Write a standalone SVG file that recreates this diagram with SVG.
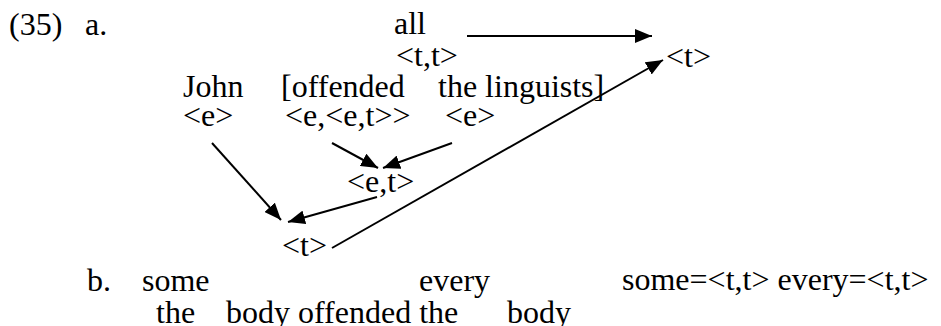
<svg xmlns="http://www.w3.org/2000/svg" width="941" height="326" viewBox="0 0 941 326">
<style>
text{font-family:"Liberation Serif","Times New Roman",serif;font-size:32px;fill:#000}
.c line{stroke:#000;stroke-width:2;fill:none}
.a{marker-end:url(#ah)}
</style>
<defs>
<marker id="ah" markerUnits="userSpaceOnUse" markerWidth="17" markerHeight="14" refX="17" refY="7" orient="auto">
<path d="M0,0 L17,7 L0,14 z" fill="#000"/>
</marker>
</defs>
<rect width="941" height="326" fill="#fff"/>
<g id="label35"><text x="9" y="35">(35)</text><text x="85" y="35">a.</text></g>
<g id="all"><text x="394" y="34">all</text></g>
<g id="tt"><text x="396" y="66">&lt;t,t&gt;</text></g>
<g id="t_top"><text x="666" y="67">&lt;t&gt;</text></g>
<g id="john"><text x="183" y="97">John</text></g>
<g id="offended"><text x="281" y="97">[offended</text></g>
<g id="linguists"><text x="438" y="97">the linguists]</text></g>
<g id="e1"><text x="183" y="126">&lt;e&gt;</text></g>
<g id="eet"><text x="285" y="126">&lt;e,&lt;e,t&gt;&gt;</text></g>
<g id="e2"><text x="445" y="126">&lt;e&gt;</text></g>
<g id="et"><text x="347" y="192">&lt;e,t&gt;</text></g>
<g id="t_bot"><text x="282" y="256">&lt;t&gt;</text></g>
<g id="b"><text x="87" y="291">b.</text><text x="142" y="291">some</text><text x="419" y="291">every</text></g>
<g id="b2"><text x="156" y="323">the</text><text x="226" y="323">body offended the</text><text x="507" y="323">body</text></g>
<g id="types"><text x="622" y="290">some=&lt;t,t&gt; every=&lt;t,t&gt;</text></g>
<g id="connectors" class="c">
<line class="a" x1="467" y1="36" x2="652" y2="36"/>
<line class="a" x1="332" y1="248" x2="663" y2="60"/>
<line class="a" x1="212" y1="143" x2="281" y2="220"/>
<line class="a" x1="377" y1="197" x2="288" y2="222"/>
<line class="a" x1="332" y1="143" x2="378" y2="168"/>
<line class="a" x1="452" y1="143" x2="383" y2="168"/>
</g>
</svg>
